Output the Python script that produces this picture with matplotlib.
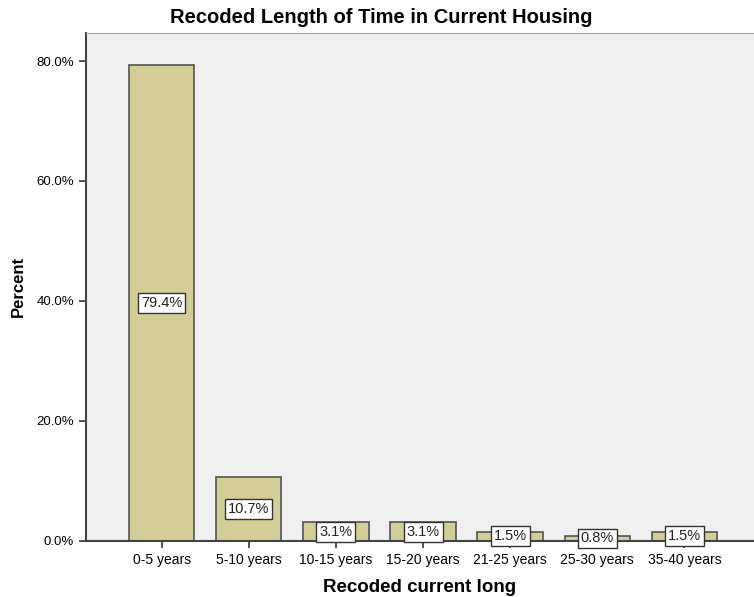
import matplotlib.pyplot as plt

# Recoded length of time in current housing (percent)
categories = ['0-5 years', '5-10 years', '10-15 years', '15-20 years',
              '21-25 years', '25-30 years', '35-40 years']
percents = [79.4, 10.7, 3.1, 3.1, 1.5, 0.8, 1.5]
y_ticks = [0, 20, 40, 60, 80]

plt.rcParams['font.family'] = ['Liberation Sans', 'DejaVu Sans']

fig = plt.figure(figsize=(7.54, 5.97), dpi=100)
ax = fig.add_axes([0.114, 0.094, 0.886, 0.851])
ax.set_facecolor('#f0f0f0')

x = list(range(len(categories)))
ax.bar(x, percents, width=0.75, color='#d3ce97', edgecolor='#555555',
       linewidth=1.2, zorder=2)

# value labels in white boxes, centred on the bar height
for xi, p in zip(x, percents):
    ax.text(xi, p / 2, f'{p:.1f}%', ha='center', va='center', fontsize=10.5,
            color='#222222', zorder=3,
            bbox=dict(boxstyle='square,pad=0.2', facecolor='white',
                      edgecolor='#333333', linewidth=1))

ax.set_xlim(-0.87, 6.8)
ax.set_ylim(0, 84.7)
ax.set_xticks(x)
ax.set_xticklabels(categories, fontsize=10)
ax.set_yticks(y_ticks)
ax.set_yticklabels([f'{t:.1f}%' for t in y_ticks], fontsize=9.5)
ax.tick_params(direction='out', length=5, color='#333333', width=1.2)

for side in ['left', 'bottom']:
    ax.spines[side].set_color('#444444')
    ax.spines[side].set_linewidth(1.5)
ax.spines['top'].set_color('#aaaaaa')
ax.spines['right'].set_visible(False)

ax.set_xlabel('Recoded current long', fontsize=13.5, fontweight='bold', labelpad=9)
ax.set_ylabel('Percent', fontsize=12, fontweight='bold')
ax.yaxis.set_label_coords(-0.09, 0.5)
fig.text(0.505, 0.97, 'Recoded Length of Time in Current Housing',
         ha='center', va='center', fontsize=14.5, fontweight='bold')

fig.savefig('out.png', dpi=100)
